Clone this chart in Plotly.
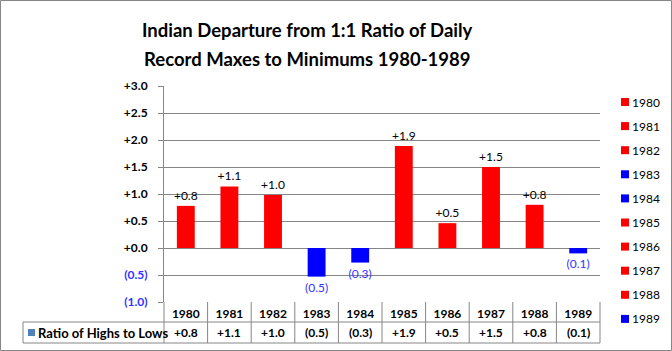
import plotly.graph_objects as go

years = ["1980", "1981", "1982", "1983", "1984", "1985", "1986", "1987", "1988", "1989"]
values = [0.78, 1.14, 0.98, -0.53, -0.27, 1.89, 0.46, 1.50, 0.80, -0.10]
series_name = "Ratio of Highs to Lows"
title_lines = ["Indian Departure from 1:1 Ratio of Daily", "Record Maxes to Minimums 1980-1989"]
tick_vals = [-1.0, -0.5, 0.0, 0.5, 1.0, 1.5, 2.0, 2.5, 3.0]

RED = "#FF0000"
BLUE = "#0000FF"
NEG_TXT = "#3333FF"
GRID = "#868686"
FONT = "Lato"


def fmt(v):
    r = round(v, 1)
    if r < 0:
        return "(%.1f)" % abs(r)
    return "+%.1f" % r


W, H = 672, 351
L, R, T, B = 164, 72, 86, 49
ph = H - T - B
pw = W - L - R


def py(pix):
    return (H - B - pix) / ph


def px(pix):
    return (pix - L) / pw


n = len(years)
colw = pw / n

fig = go.Figure()
fig.add_trace(go.Bar(
    x=years, y=values, name=series_name,
    marker=dict(color=[RED if v >= 0 else BLUE for v in values], line=dict(width=0)),
    width=0.41,
    text=[fmt(v) for v in values], textposition="outside", cliponaxis=False,
    constraintext="none",
    textfont=dict(family=FONT, size=12, color=["#000000" if v >= 0 else NEG_TXT for v in values]),
    showlegend=False,
))

tick_text = []
for t in tick_vals:
    s = fmt(t)
    if t < 0:
        tick_text.append("<span style='color:%s'>%s</span>" % (NEG_TXT, s))
    else:
        tick_text.append(s)

shapes = []
# table vertical lines
for i in range(n + 1):
    xx = px(L + i * colw)
    shapes.append(dict(type="line", xref="paper", yref="paper", x0=xx, x1=xx,
                       y0=py(343), y1=0, line=dict(color=GRID, width=1)))
# left cell
shapes.append(dict(type="line", xref="paper", yref="paper", x0=px(23), x1=px(23),
                   y0=py(343), y1=py(322), line=dict(color=GRID, width=1)))
for yy in (322, 343):
    shapes.append(dict(type="line", xref="paper", yref="paper", x0=px(23), x1=1,
                       y0=py(yy), y1=py(yy), line=dict(color=GRID, width=1)))
# legend key in table
shapes.append(dict(type="rect", xref="paper", yref="paper", x0=px(28), x1=px(35),
                   y0=py(336), y1=py(329), fillcolor="#4F81BD", line=dict(width=0)))
# outer border
shapes.append(dict(type="rect", xref="paper", yref="paper", x0=px(0.5), x1=px(W - 0.5),
                   y0=py(H - 0.5), y1=py(0.5), line=dict(color=GRID, width=1)))

annotations = []
# title, two lines
for line, yc in zip(title_lines, (30, 59)):
    annotations.append(dict(x=px(307), xref="paper", y=py(yc), yref="paper",
                            text=line, showarrow=False,
                            font=dict(family=FONT, size=18.5, color="#000000", weight="bold"),
                            xanchor="center", yanchor="middle", align="center"))
# table values
for i, v in enumerate(values):
    annotations.append(dict(x=px(L + (i + 0.5) * colw), xref="paper", y=py(332.5), yref="paper",
                            text="<b>%s</b>" % fmt(v),
                            showarrow=False, font=dict(family=FONT, size=12, color="#000000"),
                            xanchor="center", yanchor="middle"))
annotations.append(dict(x=px(36), xref="paper", y=py(332.5), yref="paper",
                        text="<b>%s</b>" % series_name, showarrow=False,
                        font=dict(family=FONT, size=13, color="#000000"),
                        xanchor="left", yanchor="middle"))
# legend (right side), one entry per year
for i, (yr, v) in enumerate(zip(years, values)):
    yc = 102 + i * 24.1
    shapes.append(dict(type="rect", xref="paper", yref="paper", x0=px(621), x1=px(629),
                       y0=py(yc + 4), y1=py(yc - 4), fillcolor=RED if v >= 0 else BLUE,
                       line=dict(width=0)))
    annotations.append(dict(x=px(630), xref="paper", y=py(yc), yref="paper", text=yr,
                            showarrow=False, font=dict(family=FONT, size=12, color="#000000"),
                            xanchor="left", yanchor="middle"))

fig.update_layout(
    width=W, height=H,
    margin=dict(l=L, r=R, t=T, b=B, autoexpand=False),
    paper_bgcolor="white", plot_bgcolor="white",
    xaxis=dict(type="category", categoryorder="array", categoryarray=years,
               range=[-0.5, n - 0.5], showgrid=False, showline=False,
               ticks="", ticklabelstandoff=3,
               tickfont=dict(family=FONT, size=12, color="#000000", weight="bold"),
               zeroline=False, fixedrange=True),
    yaxis=dict(range=[-1.0, 3.0], tickvals=tick_vals, ticktext=tick_text,
               showgrid=True, gridcolor=GRID, gridwidth=1,
               showline=True, linecolor=GRID, linewidth=1,
               ticks="outside", ticklen=5, tickcolor=GRID, ticklabelstandoff=8,
               tickfont=dict(family=FONT, size=12, color="#000000", weight="bold"),
               zeroline=True, zerolinecolor=GRID, zerolinewidth=1, fixedrange=True),
    shapes=shapes,
    annotations=annotations,
    showlegend=False,
    font=dict(family=FONT),
)

fig.write_html("out.html")
